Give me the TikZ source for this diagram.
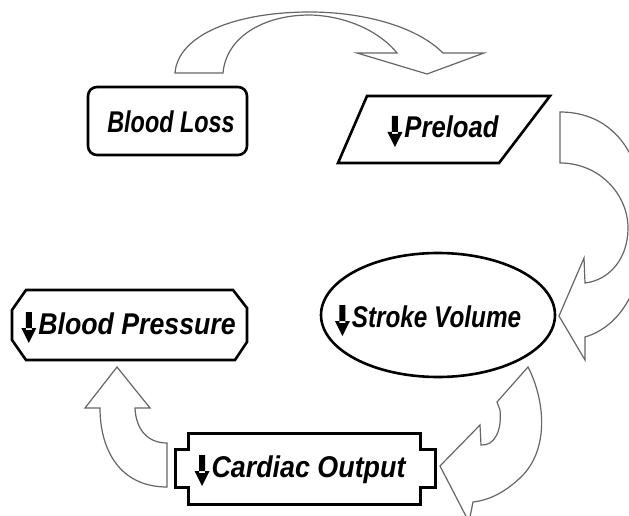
\documentclass[tikz,border=0pt]{standalone}
\usepackage{fontspec}
\usepackage{graphicx}
\setsansfont{Liberation Sans}
\usetikzlibrary{shapes.geometric}
\pgfdeclarelayer{background}
\pgfsetlayers{background,main}

% thick black down arrow in front of the labels
\newcommand{\dnarr}{\tikz[x=1pt,y=1pt,baseline=0pt]{\fill (-3,22) rectangle (3,4) (-7.5,6) -- (7.5,6) -- (0,-9) -- cycle;}\hspace{2pt}}

\tikzset{
  box/.style={draw,line width=2.6pt,line join=miter},
  blockarrow/.style={draw=black!60,line width=1.2pt,fill=white,line join=miter},
  lbl/.style={font=\fontsize{30}{32}\selectfont\sffamily\bfseries\itshape,inner sep=0pt,anchor=base}
}

\begin{document}
\begin{tikzpicture}[x=1pt,y=-1pt]
  \useasboundingbox (0,0) rectangle (629,516);
  \clip (0,0) rectangle (629,516);
  % boxes
  \draw(167.5,121) node[box,rounded corners=9pt,minimum width=159pt,minimum height=68pt] (BL) {};
  \draw[box] (367,96) -- (550,96) -- (499,163) -- (338,163) -- cycle;
  \draw(438,315) node[box,ellipse,inner sep=0pt,minimum width=234pt,minimum height=124pt] (SV) {};
  \draw[box] (26,290) -- (233,290) -- (247,308) -- (247,342) -- (235,360) -- (26,360) -- (12,340) -- (12,310) -- cycle;
  \draw[box,line width=3pt] (188,433) -- (420,433) -- (420,449) -- (435,449) -- (435,487) -- (420,487) -- (420,504)
    -- (188,504) -- (188,487) -- (175,487) -- (175,449) -- (188,449) -- cycle;
  % labels
  \node[lbl] (BLt) at (171,133) {\scalebox{0.78}[1]{Blood Loss}};
  \node[lbl] (PLt) at (443,138) {\dnarr\scalebox{0.855}[1]{Preload}};
  \node[lbl] (SVt) at (428,327) {\dnarr\scalebox{0.81}[1]{Stroke Volume}};
  \node[lbl] (BPt) at (128.5,334) {\dnarr\scalebox{0.89}[1]{Blood Pressure}};
  \node[lbl] (COt) at (300,477) {\dnarr\scalebox{0.895}[1]{Cardiac Output}};
  % block arrows
  \draw[blockarrow] (175,73) -- (223,73) .. controls (226,38) and (262,15) .. (310,15)
    .. controls (350,16) and (382,34) .. (397,53) -- (357,53) -- (427,74) -- (484,53) -- (443,53)
    .. controls (415,25) and (360,12) .. (310,12) .. controls (235,12) and (178,35) .. (175,73) -- cycle;
  \draw[blockarrow] (560,112) -- (560,163) .. controls (600,163) and (628,195) .. (628,228)
    .. controls (628,258) and (610,280) .. (585,283) -- (584,258) -- (559,316) -- (585,360) -- (585,337)
    .. controls (625,325) and (645,280) .. (645,225) .. controls (645,150) and (610,112) .. (560,112) -- cycle;
  \draw[blockarrow] (528,367) .. controls (545,400) and (550,450) .. (520,478)
    .. controls (505,492) and (490,500) .. (473,502) -- (469,522) -- (440,466) -- (480,425) -- (481,445)
    .. controls (495,446) and (502,430) .. (500,410) -- (497,402) -- cycle;
  \draw[blockarrow] (167,443) -- (167,487) .. controls (120,487) and (100,450) .. (100,408) -- (85,408)
    -- (117,367) -- (150,408) -- (135,408) .. controls (136,430) and (148,443) .. (167,443) -- cycle;
\end{tikzpicture}
\end{document}
